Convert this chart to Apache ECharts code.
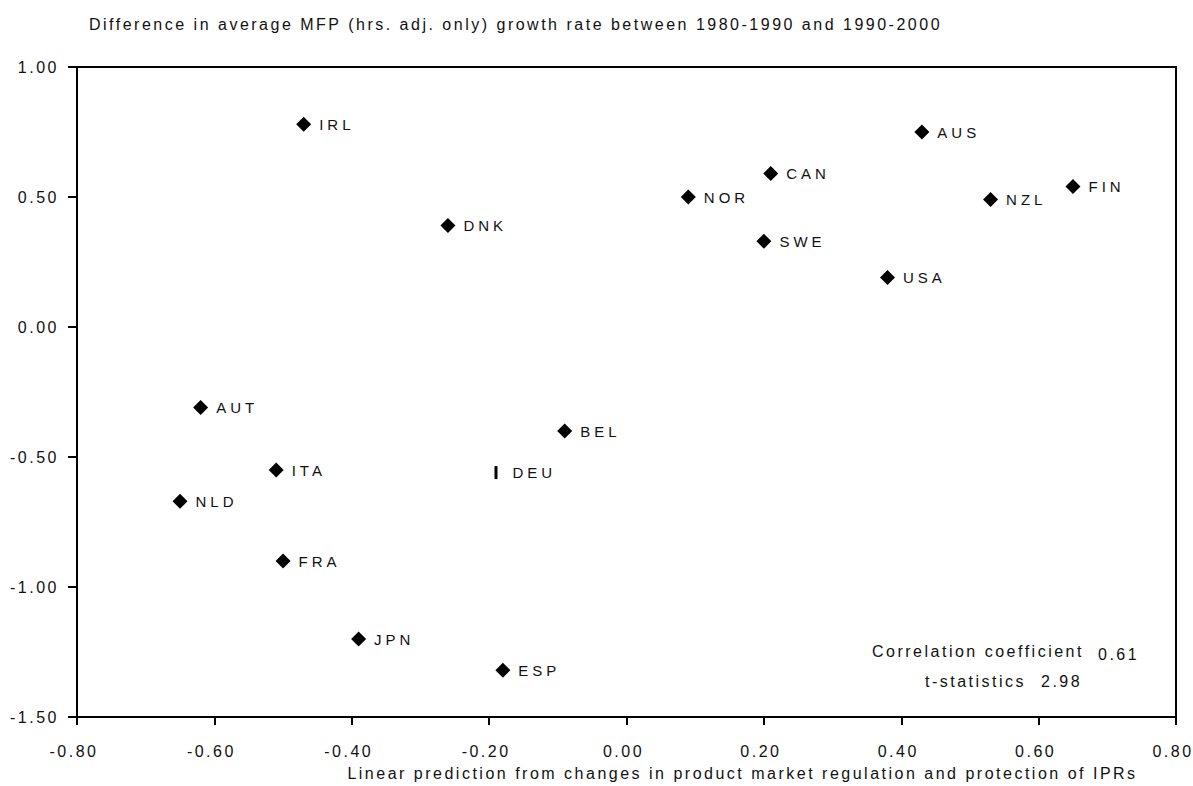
<!DOCTYPE html>
<html>
<head>
<meta charset="utf-8">
<script src="https://cdn.jsdelivr.net/npm/echarts@6/dist/echarts.min.js"></script>
<style>
  html, body { margin: 0; padding: 0; background: #fff; }
  #chart { width: 1193px; height: 786px; }
  #chart text { letter-spacing: 2.5px; }
  #chart text[style*="sans-serif"] { letter-spacing: 4px; }
</style>
</head>
<body>
<div id="chart"></div>
<script>
// ---- data ----
const countries = ['IRL','DNK','AUT','ITA','NLD','FRA','JPN','ESP','DEU','BEL','NOR','CAN','SWE','USA','AUS','NZL','FIN'];
const xValues   = [-0.47,-0.26,-0.62,-0.51,-0.65,-0.50,-0.39,-0.18,-0.19,-0.09, 0.09, 0.21, 0.20, 0.38, 0.43, 0.53, 0.65];
const yValues   = [ 0.78, 0.39,-0.31,-0.55,-0.67,-0.90,-1.20,-1.32,-0.56,-0.40, 0.50, 0.59, 0.33, 0.19, 0.75, 0.49, 0.54];
const titleText = 'Difference in average MFP (hrs. adj. only) growth rate between 1980-1990 and 1990-2000';
const xAxisName = 'Linear prediction from changes in product market regulation and protection of IPRs';
const statLabels = ['Correlation coefficient', 't-statistics'];
const statValues = ['0.61', '2.98'];

const FONT = 'Liberation Sans';
const LABEL_FONT = 'Liberation Sans, sans-serif';
const TXT = '#111';

const points = countries.map((c, i) => {
  const item = { name: c, value: [xValues[i], yValues[i]] };
  if (c === 'DEU') {
    item.symbol = 'rect';
    item.symbolSize = [3, 13];
    item.label = { distance: 15 };
  }
  return item;
});

const fmt = v => (Math.abs(v) < 1e-9 ? 0 : v).toFixed(2);

const chart = echarts.init(document.getElementById('chart'), null, { renderer: 'svg' });
chart.setOption({
  animation: false,
  backgroundColor: '#fff',
  textStyle: { fontFamily: FONT, color: TXT },
  grid: { left: 77, right: 17, top: 67, bottom: 69, show: true, borderColor: '#000', borderWidth: 2, backgroundColor: 'transparent' },
  xAxis: {
    type: 'value', min: -0.8, max: 0.8, interval: 0.2,
    name: xAxisName, nameLocation: 'middle', nameGap: 48,
    nameTextStyle: { fontFamily: FONT, fontSize: 16, color: TXT, padding: [0, 0, 0, 232] },
    axisLine: { show: true, onZero: false, lineStyle: { color: '#000', width: 2 } },
    axisTick: { show: true, inside: false, length: 8, lineStyle: { color: '#000', width: 2 } },
    axisLabel: { formatter: fmt, fontFamily: FONT, fontSize: 16, color: TXT, margin: 26, padding: [0, 6, 0, 0] },
    splitLine: { show: false }
  },
  yAxis: {
    type: 'value', min: -1.5, max: 1.0, interval: 0.5,
    axisLine: { show: true, onZero: false, lineStyle: { color: '#000', width: 2 } },
    axisTick: { show: true, inside: false, length: 9, lineStyle: { color: '#000', width: 2 } },
    axisLabel: { formatter: fmt, fontFamily: FONT, fontSize: 16, color: TXT, margin: 18 },
    splitLine: { show: false }
  },
  graphic: [
    { type: 'text', x: 89, y: 24, style: { text: titleText, fill: TXT, font: '16px ' + FONT, textVerticalAlign: 'middle', verticalAlign: 'middle' } },
    { type: 'text', x: 872, y: 651, style: { text: statLabels[0], fill: TXT, font: '16px ' + FONT, textVerticalAlign: 'middle', verticalAlign: 'middle' } },
    { type: 'text', x: 1098, y: 654, style: { text: statValues[0], fill: TXT, font: '16px ' + FONT, textVerticalAlign: 'middle', verticalAlign: 'middle' } },
    { type: 'text', x: 925, y: 681, style: { text: statLabels[1], fill: TXT, font: '16px ' + FONT, textVerticalAlign: 'middle', verticalAlign: 'middle' } },
    { type: 'text', x: 1041, y: 681, style: { text: statValues[1], fill: TXT, font: '16px ' + FONT, textVerticalAlign: 'middle', verticalAlign: 'middle' } }
  ],
  series: [{
    type: 'scatter',
    data: points,
    symbol: 'diamond',
    symbolSize: 15,
    itemStyle: { color: '#000', opacity: 1 },
    label: {
      show: true, position: 'right', distance: 8,
      formatter: p => p.name,
      fontFamily: LABEL_FONT, fontSize: 15, color: TXT
    }
  }]
});
</script>
</body>
</html>
